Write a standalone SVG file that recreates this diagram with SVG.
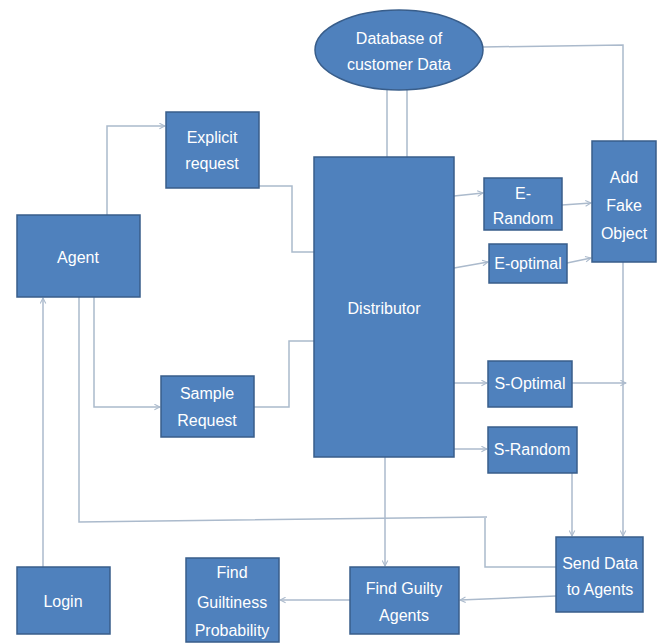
<svg xmlns="http://www.w3.org/2000/svg" width="661" height="643" viewBox="0 0 661 643">
<style>
.n{fill:#4f81bd;stroke:#385d8a;stroke-width:1.5}
.t{font-family:"Liberation Sans",Arial,sans-serif;font-size:16px;fill:#ffffff;text-anchor:middle}
.c{fill:none;stroke:#abbacc;stroke-width:1.5}
</style>
<defs>
<marker id="a" viewBox="0 0 10 10" refX="9" refY="5" markerWidth="7" markerHeight="7" orient="auto" markerUnits="userSpaceOnUse">
<path d="M1,1 L9,5 L1,9" fill="none" stroke="#abbacc" stroke-width="1.5"/>
</marker>
</defs>
<rect width="661" height="643" fill="#ffffff"/>
<g id="connectors">
<path class="c" d="M107,215 V126 H165" marker-end="url(#a)"/>
<path class="c" d="M259,186 H292 V252 H314"/>
<path class="c" d="M94,297 V407 H160" marker-end="url(#a)"/>
<path class="c" d="M254,407 H289 V341 H314"/>
<path class="c" d="M43,567 V298" marker-end="url(#a)"/>
<path class="c" d="M79,297 V522 L487,517 M485,517 V567 H556"/>
<path class="c" d="M387,89 V157 M407,89 V157"/>
<path class="c" d="M483,47 L623,45 V141"/>
<path class="c" d="M454,196 L483,193" marker-end="url(#a)"/>
<path class="c" d="M562,205 L591,203" marker-end="url(#a)"/>
<path class="c" d="M454,268 L488,262" marker-end="url(#a)"/>
<path class="c" d="M567,263 L591,258" marker-end="url(#a)"/>
<path class="c" d="M454,383 H487" marker-end="url(#a)"/>
<path class="c" d="M454,449 H487" marker-end="url(#a)"/>
<path class="c" d="M572,383 H626" marker-end="url(#a)"/>
<path class="c" d="M623,262 V536" marker-end="url(#a)"/>
<path class="c" d="M572,473 V536" marker-end="url(#a)"/>
<path class="c" d="M385,457 V566" marker-end="url(#a)"/>
<path class="c" d="M556,596 L460,600" marker-end="url(#a)"/>
<path class="c" d="M350,600 H280" marker-end="url(#a)"/>
</g>
<g id="database">
<ellipse class="n" cx="399" cy="50" rx="84" ry="40"/>
<text class="t" x="399" y="44">Database of</text>
<text class="t" x="399" y="70">customer Data</text>
</g>
<g id="explicit">
<rect class="n" x="166" y="112" width="93" height="76"/>
<text class="t" x="212" y="143">Explicit</text>
<text class="t" x="212" y="169">request</text>
</g>
<g id="agent">
<rect class="n" x="17" y="215" width="123" height="82"/>
<text class="t" x="78" y="263">Agent</text>
</g>
<g id="distributor">
<rect class="n" x="314" y="157" width="140" height="300"/>
<text class="t" x="384" y="314">Distributor</text>
</g>
<g id="erandom">
<rect class="n" x="484" y="178" width="78" height="52"/>
<text class="t" x="523" y="199">E-</text>
<text class="t" x="523" y="224">Random</text>
</g>
<g id="eoptimal">
<rect class="n" x="489" y="244" width="78" height="39"/>
<text class="t" x="528" y="269">E-optimal</text>
</g>
<g id="addfake">
<rect class="n" x="592" y="141" width="64" height="121"/>
<text class="t" x="624" y="183">Add</text>
<text class="t" x="624" y="211">Fake</text>
<text class="t" x="624" y="239">Object</text>
</g>
<g id="sample">
<rect class="n" x="161" y="376" width="93" height="61"/>
<text class="t" x="207" y="399">Sample</text>
<text class="t" x="207" y="426">Request</text>
</g>
<g id="soptimal">
<rect class="n" x="488" y="361" width="84" height="46"/>
<text class="t" x="530" y="389">S-Optimal</text>
</g>
<g id="srandom">
<rect class="n" x="488" y="427" width="89" height="46"/>
<text class="t" x="532" y="455">S-Random</text>
</g>
<g id="login">
<rect class="n" x="17" y="567" width="93" height="67"/>
<text class="t" x="63" y="607">Login</text>
</g>
<g id="guiltiness">
<rect class="n" x="186" y="558" width="93" height="84"/>
<text class="t" x="232" y="578">Find</text>
<text class="t" x="232" y="608">Guiltiness</text>
<text class="t" x="232" y="636">Probability</text>
</g>
<g id="guilty">
<rect class="n" x="350" y="567" width="109" height="67"/>
<text class="t" x="404" y="594">Find Guilty</text>
<text class="t" x="404" y="621">Agents</text>
</g>
<g id="senddata">
<rect class="n" x="556" y="537" width="87" height="75"/>
<text class="t" x="600" y="569">Send Data</text>
<text class="t" x="600" y="595">to Agents</text>
</g>
</svg>
